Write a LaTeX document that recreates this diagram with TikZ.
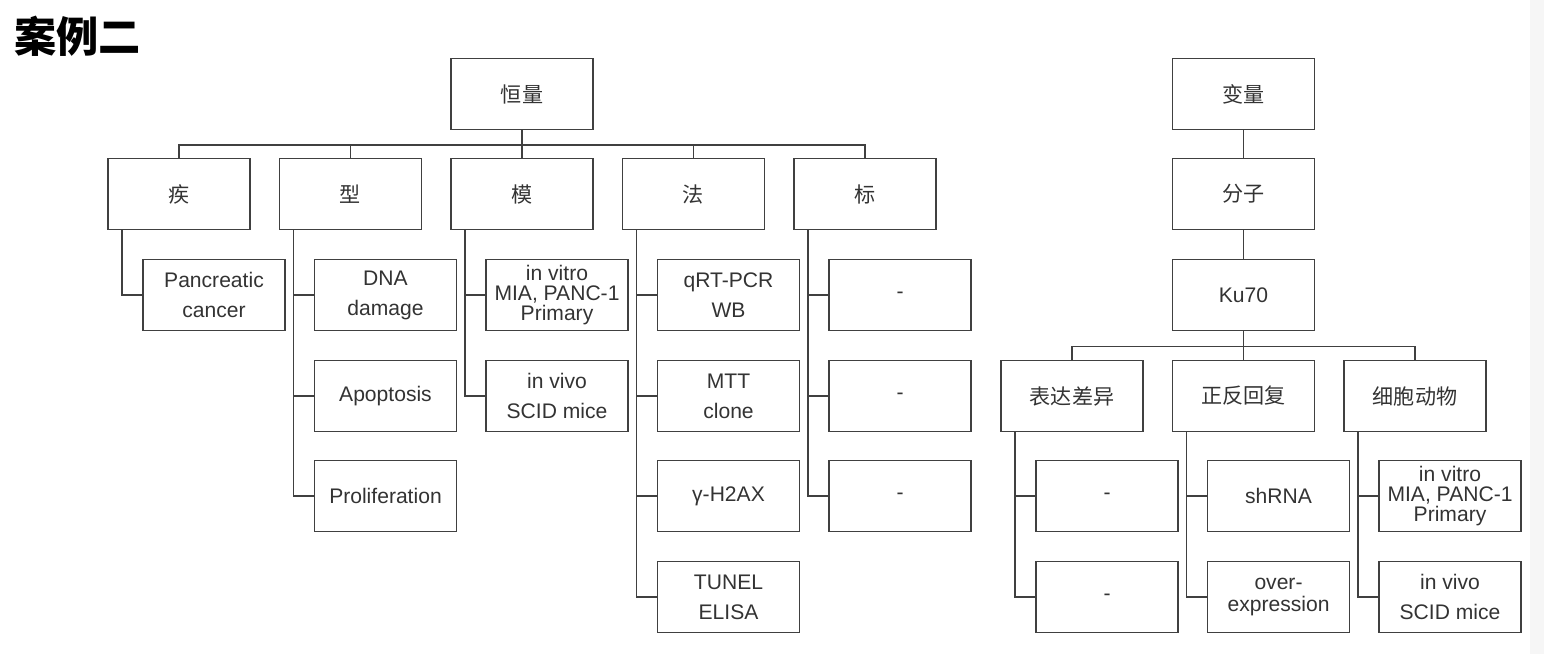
\documentclass[tikz,border=0pt]{standalone}
\usepackage{fontspec}
\setmainfont{Liberation Sans}
\newfontfamily\cjk{Noto Sans CJK SC}
\definecolor{boxgray}{HTML}{404040}
\definecolor{textgray}{HTML}{333333}

\begin{document}
\begin{tikzpicture}[x=0.02cm, y=-0.02cm,
        box/.style={rectangle, draw=boxgray, line width=1.1pt, minimum width=2.84cm, minimum height=1.42cm, inner sep=0pt, align=center, text=textgray, font=\fontsize{12}{17}\selectfont},
        zh/.style={box, font=\cjk\fontsize{12}{17}\selectfont},
        tight/.style={font=\fontsize{12}{11.5}\selectfont},
        link/.style={draw=boxgray, line width=1.1pt}]

            \useasboundingbox (0,0) rectangle (1544,654);
            \fill[gray!7] (1530,0) rectangle (1544,654);
            \node[anchor=west, font=\cjk\bfseries\fontsize{24}{24}\selectfont] (title) at (8,36) {案例二};

            % 恒量
            \node[zh] (H) at (522,94) {恒量};
            \node[zh] (ji) at (179,194) {疾};
            \node[zh] (xing) at (350.5,194) {型};
            \node[zh] (mo) at (522,194) {模};
            \node[zh] (fa) at (693.5,194) {法};
            \node[zh] (biao) at (865,194) {标};

            \node[box] (ji1) at (214,295) {Pancreatic\\cancer};
            \node[box] (xing1) at (385.5,295) {DNA\\damage};
            \node[box] (xing2) at (385.5,396) {Apoptosis};
            \node[box] (xing3) at (385.5,496) {Proliferation};
            \node[box, tight] (mo1) at (557,295) {in vitro\\MIA, PANC-1\\Primary};
            \node[box] (mo2) at (557,396) {in vivo\\SCID mice};
            \node[box] (fa1) at (728.5,295) {qRT-PCR\\WB};
            \node[box] (fa2) at (728.5,396) {MTT\\clone};
            \node[box] (fa3) at (728.5,496) {γ-H2AX};
            \node[box] (fa4) at (728.5,597) {TUNEL\\ELISA};
            \node[box] (biao1) at (900,295) {-};
            \node[box] (biao2) at (900,396) {-};
            \node[box] (biao3) at (900,496) {-};

            \draw[link] (H.south) -- ++(0,14.5) -| (ji.north);
            \draw[link] (H.south) -- ++(0,14.5) -| (xing.north);
            \draw[link] (H.south) -- (mo.north);
            \draw[link] (H.south) -- ++(0,14.5) -| (fa.north);
            \draw[link] (H.south) -- ++(0,14.5) -| (biao.north);

            \draw[link] ([xshift=-1.14cm]ji.south) |- (ji1.west);
            \draw[link] ([xshift=-1.14cm]xing.south) |- (xing1.west);
            \draw[link] ([xshift=-1.14cm]xing.south) |- (xing2.west);
            \draw[link] ([xshift=-1.14cm]xing.south) |- (xing3.west);
            \draw[link] ([xshift=-1.14cm]mo.south) |- (mo1.west);
            \draw[link] ([xshift=-1.14cm]mo.south) |- (mo2.west);
            \draw[link] ([xshift=-1.14cm]fa.south) |- (fa1.west);
            \draw[link] ([xshift=-1.14cm]fa.south) |- (fa2.west);
            \draw[link] ([xshift=-1.14cm]fa.south) |- (fa3.west);
            \draw[link] ([xshift=-1.14cm]fa.south) |- (fa4.west);
            \draw[link] ([xshift=-1.14cm]biao.south) |- (biao1.west);
            \draw[link] ([xshift=-1.14cm]biao.south) |- (biao2.west);
            \draw[link] ([xshift=-1.14cm]biao.south) |- (biao3.west);

            % 变量
            \node[zh] (B) at (1243.5,94) {变量};
            \node[zh] (fz) at (1243.5,194) {分子};
            \node[box] (ku) at (1243.5,295) {Ku70};
            \node[zh] (bd) at (1072,396) {表达差异};
            \node[zh] (zf) at (1243.5,396) {正反回复};
            \node[zh] (xb) at (1415,396) {细胞动物};

            \node[box] (bd1) at (1107,496) {-};
            \node[box] (bd2) at (1107,597) {-};
            \node[box] (zf1) at (1278.5,496) {shRNA};
            \node[box, font=\fontsize{12}{13}\selectfont] (zf2) at (1278.5,597) {over-\\expression};
            \node[box, tight] (xb1) at (1450,496) {in vitro\\MIA, PANC-1\\Primary};
            \node[box] (xb2) at (1450,597) {in vivo\\SCID mice};

            \draw[link] (B) -- (fz);
            \draw[link] (fz) -- (ku);
            \draw[link] (ku.south) -- ++(0,15) -| (bd.north);
            \draw[link] (ku.south) -- (zf.north);
            \draw[link] (ku.south) -- ++(0,15) -| (xb.north);

            \draw[link] ([xshift=-1.14cm]bd.south) |- (bd1.west);
            \draw[link] ([xshift=-1.14cm]bd.south) |- (bd2.west);
            \draw[link] ([xshift=-1.14cm]zf.south) |- (zf1.west);
            \draw[link] ([xshift=-1.14cm]zf.south) |- (zf2.west);
            \draw[link] ([xshift=-1.14cm]xb.south) |- (xb1.west);
            \draw[link] ([xshift=-1.14cm]xb.south) |- (xb2.west);
        \end{tikzpicture}
\end{document}
